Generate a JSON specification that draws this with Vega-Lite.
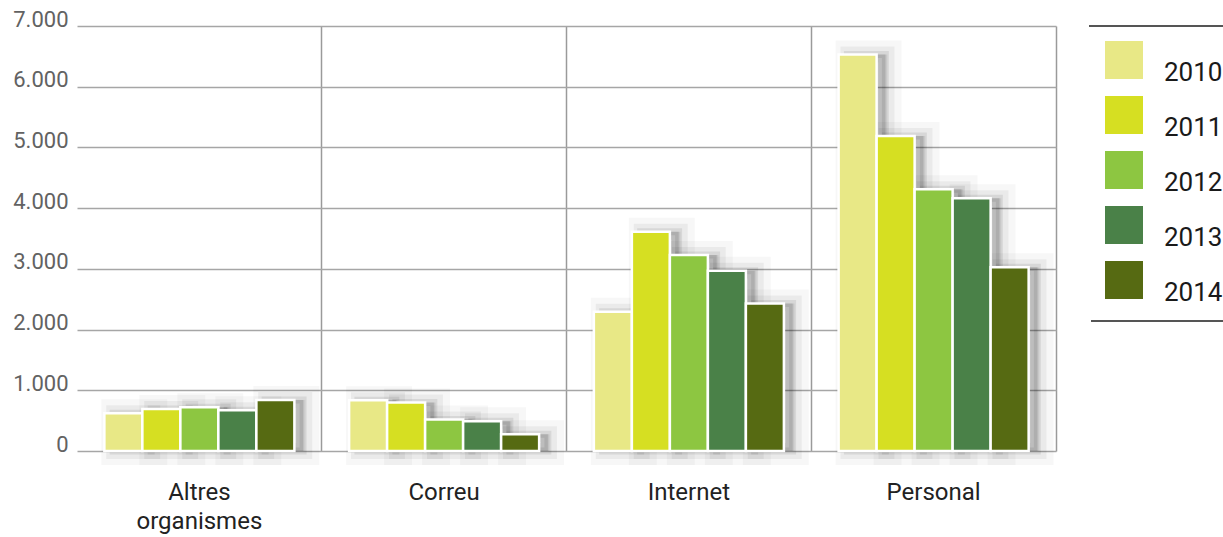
{
  "$schema": "https://vega.github.io/schema/vega-lite/v6.json",
  "width": 979,
  "height": 425,
  "autosize": {"type": "none"},
  "padding": {"left": 77, "top": 26, "right": 167, "bottom": 86},
  "background": "white",
  "config": {"view": {"stroke": null}, "font": "Roboto"},
  "data": {
    "values": [
      {"canal": "Altres organismes", "any": "2010", "valor": 620},
      {"canal": "Altres organismes", "any": "2011", "valor": 690},
      {"canal": "Altres organismes", "any": "2012", "valor": 720},
      {"canal": "Altres organismes", "any": "2013", "valor": 670},
      {"canal": "Altres organismes", "any": "2014", "valor": 840},
      {"canal": "Correu", "any": "2010", "valor": 835},
      {"canal": "Correu", "any": "2011", "valor": 800},
      {"canal": "Correu", "any": "2012", "valor": 520},
      {"canal": "Correu", "any": "2013", "valor": 490},
      {"canal": "Correu", "any": "2014", "valor": 275},
      {"canal": "Internet", "any": "2010", "valor": 2295},
      {"canal": "Internet", "any": "2011", "valor": 3610},
      {"canal": "Internet", "any": "2012", "valor": 3230},
      {"canal": "Internet", "any": "2013", "valor": 2970},
      {"canal": "Internet", "any": "2014", "valor": 2430},
      {"canal": "Personal", "any": "2010", "valor": 6530},
      {"canal": "Personal", "any": "2011", "valor": 5190},
      {"canal": "Personal", "any": "2012", "valor": 4310},
      {"canal": "Personal", "any": "2013", "valor": 4165},
      {"canal": "Personal", "any": "2014", "valor": 3025}
    ]
  },
  "encoding": {
    "x": {
      "field": "canal",
      "type": "nominal",
      "sort": ["Altres organismes", "Correu", "Internet", "Personal"],
      "scale": {"paddingInner": 0, "paddingOuter": 0},
      "axis": {
        "title": null,
        "domain": false,
        "ticks": false,
        "grid": true,
        "bandPosition": 1,
        "gridColor": "#9a9a9a",
        "gridWidth": 1.5,
        "labelAngle": 0,
        "labelFont": "Roboto",
        "labelFontSize": 24,
        "labelColor": "#222222",
        "labelPadding": 29,
        "labelLineHeight": 29,
        "labelExpr": "datum.label == 'Altres organismes' ? ['Altres', 'organismes'] : datum.label"
      }
    },
    "y": {
      "field": "valor",
      "type": "quantitative",
      "scale": {"domain": [0, 7000], "nice": false},
      "axis": {
        "title": null,
        "values": [0, 1000, 2000, 3000, 4000, 5000, 6000, 7000],
        "domain": false,
        "ticks": false,
        "labelFont": "Roboto",
        "labelFontSize": 22,
        "labelColor": "#626262",
        "labelPadding": 9,
        "labelBaseline": "alphabetic",
        "labelOverlap": false,
        "labelExpr": "replace(format(datum.value, ','), ',', '.')",
        "gridColor": "#a6a6a6",
        "gridWidth": 1.5
      }
    }
  },
  "layer": [
    {
      "mark": {"type": "bar", "fill": "#000000", "fillOpacity": 0.04, "stroke": "#000000", "strokeOpacity": 0.03, "strokeWidth": 28},
      "encoding": {
        "xOffset": {"field": "any", "type": "nominal", "scale": {"paddingInner": 0, "paddingOuter": 0.72, "align": 0.7}}
      }
    },
    {
      "mark": {"type": "bar", "fill": "#000000", "fillOpacity": 0.06, "stroke": "#000000", "strokeOpacity": 0.05, "strokeWidth": 16},
      "encoding": {
        "xOffset": {"field": "any", "type": "nominal", "scale": {"paddingInner": 0, "paddingOuter": 0.72, "align": 0.68}}
      }
    },
    {
      "mark": {"type": "bar", "fill": "#000000", "fillOpacity": 0.1, "stroke": "#000000", "strokeOpacity": 0.08, "strokeWidth": 7},
      "encoding": {
        "xOffset": {"field": "any", "type": "nominal", "scale": {"paddingInner": 0, "paddingOuter": 0.72, "align": 0.66}}
      }
    },
    {
      "mark": {"type": "bar", "stroke": "white", "strokeWidth": 2.5},
      "encoding": {
        "xOffset": {"field": "any", "type": "nominal", "scale": {"paddingInner": 0, "paddingOuter": 0.72}},
        "color": {
          "field": "any",
          "type": "nominal",
          "scale": {
            "domain": ["2010", "2011", "2012", "2013", "2014"],
            "range": ["#e8e886", "#d6df22", "#8dc641", "#4a8148", "#566a12"]
          },
          "legend": {
            "orient": "none",
            "legendX": 1013,
            "legendY": 0,
            "title": null,
            "symbolType": "square",
            "symbolSize": 1444,
            "symbolStrokeWidth": 0,
            "symbolOpacity": 1,
            "labelFont": "Roboto",
            "labelFontSize": 26,
            "labelColor": "#1a1a1a",
            "labelOffset": 21,
            "labelBaseline": "top",
            "rowPadding": 10,
            "padding": 15,
            "strokeColor": "#555555",
            "encode": {
              "legend": {
                "stroke": {"value": "#555555"},
                "strokeWidth": {"value": 2},
                "strokeDash": {"value": [590, 295]}
              }
            },
            "encoding": {
              "legend": {
                "stroke": {"value": "#555555"},
                "strokeWidth": {"value": 2},
                "strokeDash": {"value": [590, 295]}
              }
            }
          }
        }
      }
    }
  ],
  "resolve": {"scale": {"xOffset": "independent"}}
}
